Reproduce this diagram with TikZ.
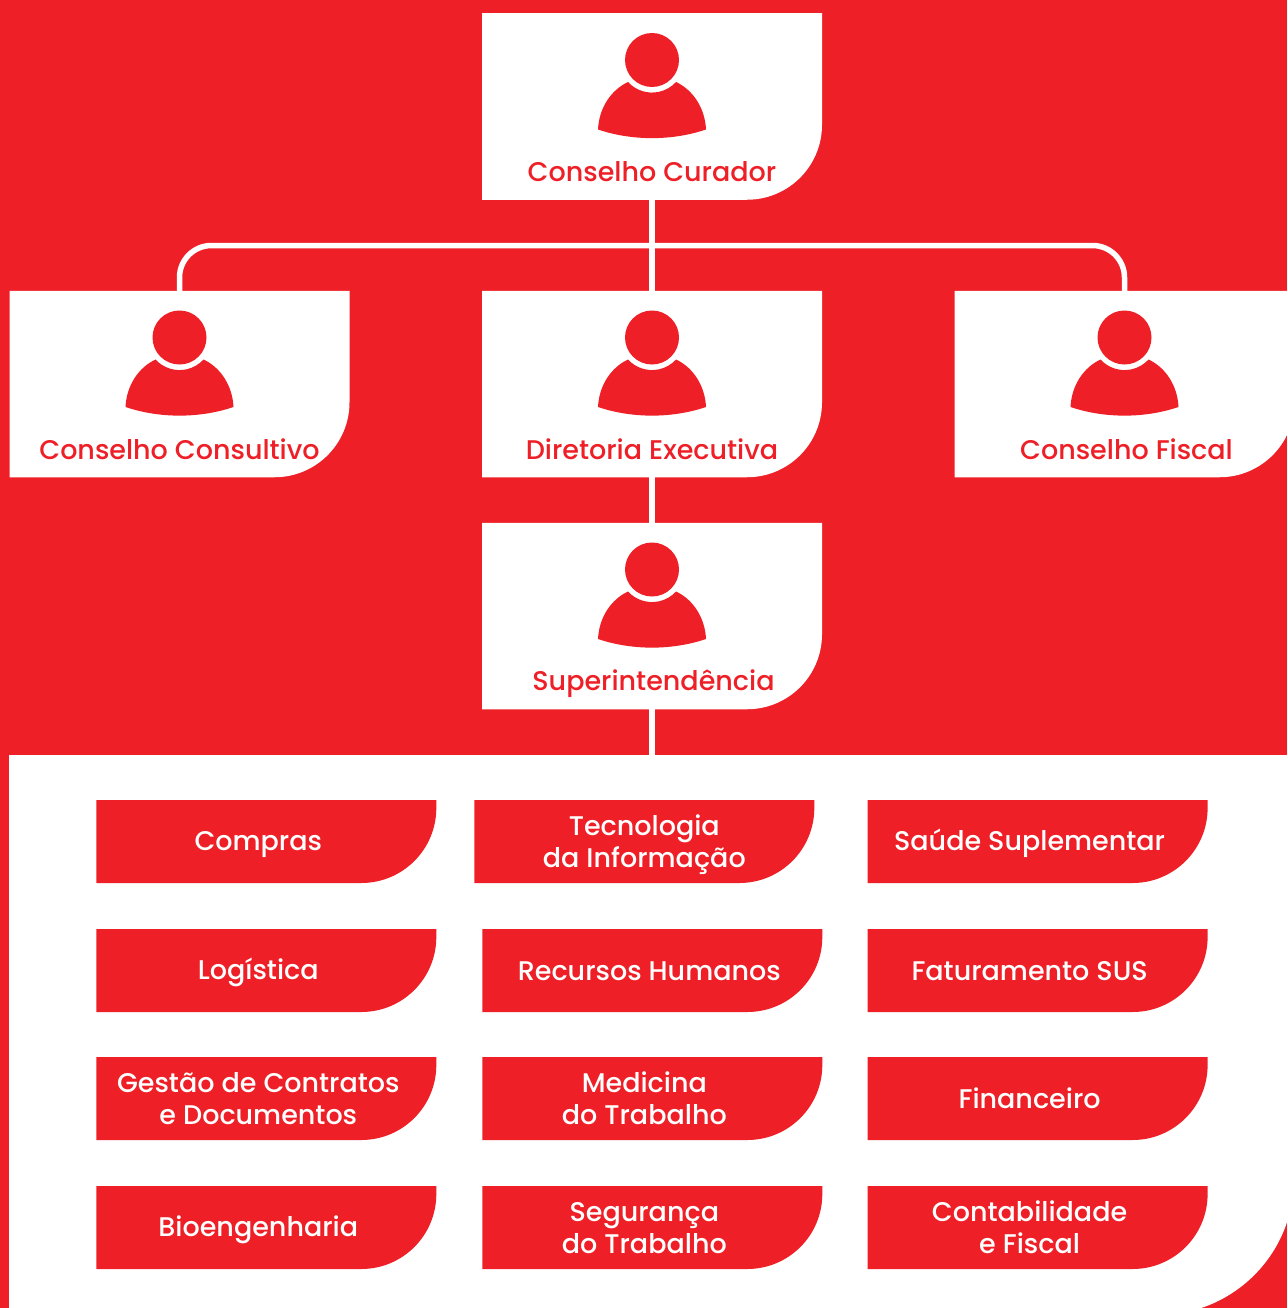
\documentclass[tikz,border=0pt]{standalone}
\usepackage{fontspec}
\setmainfont{Poppins Medium}
\usepackage{tikz}
\definecolor{hospred}{RGB}{238,31,38}
% one bottom right corner rounded, filled inside the node
\newcommand{\cornerfill}[2]{\fill[#1] (path picture bounding box.north west) -- (path picture bounding box.north east) -- ([yshift=#2]path picture bounding box.south east) arc[start angle=0,end angle=-90,radius=#2] -- (path picture bounding box.south west) -- cycle;}
\newcommand{\textstrut}{\rule[-7pt]{0pt}{33pt}}
\tikzset{
  person/.pic={
   \fill[hospred] (-54,-69.5) .. controls (-53,-48) and (-41,-30) .. (-24,-22) arc[start angle=222.5,end angle=317.5,radius=32.6] .. controls (41,-30) and (53,-48) .. (54,-69.5) .. controls (20,-81) and (-20,-81) .. (-54,-69.5) -- cycle;
   \fill[hospred] (0,0) circle (27);
  },
  card/.style={minimum width=340pt,minimum height=186.5pt,inner sep=0pt,outer sep=0pt,path picture={\cornerfill{white}{75pt}}},
  cardtext/.style={text=hospred,font=\fontsize{27}{32}\selectfont,inner sep=0pt,yshift=-65.5pt,execute at begin node=\textstrut,execute at end node=\textstrut},
  unit/.style={minimum width=340pt,minimum height=83pt,inner sep=0pt,outer sep=0pt,path picture={\cornerfill{hospred}{75pt}}},
  unittext/.style={text=white,font=\fontsize{27}{32}\selectfont,inner sep=0pt,align=center,xshift=-8pt,execute at begin node=\textstrut,execute at end node=\textstrut},
  twolines/.style={yshift=-3.5pt},
  panel/.style={minimum width=1285pt,minimum height=560pt,inner sep=0pt,outer sep=0pt,path picture={\cornerfill{white}{136pt}}},
  link/.style={draw=white,line width=5.5pt}
}
\begin{document}
\begin{tikzpicture}[x=1pt,y=1pt,node distance=100pt]
 \clip (0,0) rectangle (1287,-1308);
 \fill[hospred] (0,0) rectangle (1287,-1308);

   \node[panel] (painel) at (651.5,-1035) {};

   \node[card,label={[cardtext]center:Conselho Curador}] (curador) at (652,-106.5) {};
   \node[card,node distance=277.5pt,label={[cardtext]center:Diretoria Executiva}] (diretoria) [below of = curador] {};
   \node[card,node distance=472.5pt,label={[cardtext]center:Conselho Consultivo}] (consultivo) [left of = diretoria] {};
   \node[card,node distance=472.5pt,label={[cardtext,xshift=2pt]center:Conselho Fiscal}] (fiscal) [right of = diretoria] {};
   \node[card,node distance=232pt,label={[cardtext,xshift=1.5pt]center:Superintendência}] (superint) [below of = diretoria] {};

   \foreach \n in {curador,diretoria,consultivo,fiscal,superint}
     \pic at ([yshift=46.5pt]\n.center) {person};

   \coordinate (tronco) at (652,-245.5);
   \draw[link] (curador.south) -- (diretoria.north);
   \draw[link] (diretoria.south) -- (superint.north);
   \draw[link] (superint.south) -- (superint.south |- painel.north);
   \draw[link,rounded corners=32pt] (consultivo.north) |- (tronco) -| (fiscal.north);

   \node[unit,label={[unittext]center:Compras}] (compras) at (266.3,-841.5) {};
   \node[unit,node distance=378pt,label={[unittext,twolines,xshift=8pt]center:Tecnologia\\da Informação}] (tecnologia) [right of = compras] {};
   \node[unit,node distance=393.3pt,label={[unittext]center:Saúde Suplementar}] (saude) [right of = tecnologia] {};

   \node[unit,node distance=129pt,label={[unittext]center:Logística}] (logistica) [below of = compras] {};
   \node[unit,node distance=386pt,label={[unittext,xshift=5pt]center:Recursos Humanos}] (recursos) [right of = logistica] {};
   \node[unit,node distance=385.3pt,label={[unittext]center:Faturamento SUS}] (faturamento) [right of = recursos] {};

   \node[unit,node distance=128pt,label={[unittext,twolines]center:Gestão de Contratos\\e Documentos}] (contratos) [below of = logistica] {};
   \node[unit,node distance=386pt,label={[unittext,twolines]center:Medicina\\do Trabalho}] (medicina) [right of = contratos] {};
   \node[unit,node distance=385.3pt,label={[unittext]center:Financeiro}] (financeiro) [right of = medicina] {};

   \node[unit,node distance=129pt,label={[unittext]center:Bioengenharia}] (bio) [below of = contratos] {};
   \node[unit,node distance=386pt,label={[unittext,twolines]center:Segurança\\do Trabalho}] (seguranca) [right of = bio] {};
   \node[unit,node distance=385.3pt,label={[unittext,twolines]center:Contabilidade\\e Fiscal}] (contabilidade) [right of = seguranca] {};

\end{tikzpicture}
\end{document}
